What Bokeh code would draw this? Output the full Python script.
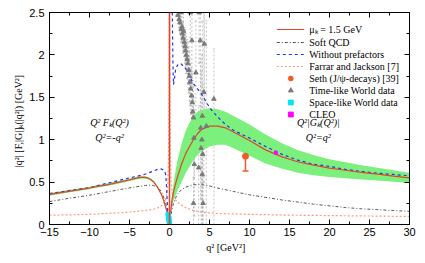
import numpy as np
from bokeh.plotting import figure
from bokeh.models import (FixedTicker, LinearAxis, Range1d, Legend, LegendItem,
                          Whisker, ColumnDataSource, Label, Span, TeeHead,
                          CustomJSTickFormatter)
from bokeh.embed import file_html
from bokeh.resources import INLINE

# ---------------- data ----------------
x_ticks = [-15, -10, -5, 0, 5, 10, 15, 20, 25, 30]
x_minor = [-12.5, -7.5, -2.5, 2.5, 7.5, 12.5, 17.5, 22.5, 27.5]
y_ticks = [0, 0.5, 1, 1.5, 2, 2.5]
y_tick_labels = ["0", "0.5", "1", "1.5", "2", "2.5"]
y_minor = [0.25, 0.75, 1.25, 1.75, 2.25]

# space-like branch (q^2 < 0)
q_s = [-15, -14, -13, -12, -11, -10, -9, -8, -7, -6, -5, -4, -3.5, -3, -2.5, -2,
       -1.5, -1, -0.75, -0.5, -0.3, -0.15, -0.05]
red_s = [0.355, 0.37, 0.385, 0.40, 0.415, 0.43, 0.45, 0.465, 0.485, 0.505, 0.527,
         0.55, 0.556, 0.555, 0.54, 0.505, 0.44, 0.35, 0.29, 0.21, 0.14, 0.08, 0.03]
band_s_lo = [0.34, 0.355, 0.37, 0.385, 0.40, 0.415, 0.435, 0.45, 0.47, 0.49, 0.512,
             0.535, 0.541, 0.54, 0.527, 0.493, 0.43, 0.343, 0.285, 0.206, 0.138, 0.079, 0.03]
band_s_hi = [0.37, 0.385, 0.40, 0.415, 0.43, 0.445, 0.465, 0.48, 0.50, 0.52, 0.542,
             0.565, 0.571, 0.57, 0.553, 0.517, 0.45, 0.357, 0.295, 0.214, 0.142, 0.081, 0.03]

# time-like branch (q^2 > 0)
q_t = [0.1, 0.3, 0.5, 0.75, 1.0, 1.5, 2.0, 2.5, 3.0, 3.5, 4.0, 5.0, 6.0, 7.0, 8.0,
       10.0, 12.0, 14.0, 16.0, 18.0, 20.0, 22.0, 24.0, 26.0, 28.0, 30.0]
red_t = [0.10, 0.28, 0.38, 0.48, 0.56, 0.71, 0.83, 0.92, 1.00, 1.07, 1.12, 1.16,
         1.16, 1.14, 1.09, 0.99, 0.88, 0.80, 0.74, 0.70, 0.665, 0.64, 0.615, 0.595,
         0.57, 0.55]
band_t_lo = [0.08, 0.22, 0.28, 0.34, 0.40, 0.50, 0.60, 0.68, 0.76, 0.82, 0.87, 0.92,
             0.94, 0.94, 0.90, 0.81, 0.72, 0.66, 0.61, 0.58, 0.56, 0.545, 0.53, 0.52,
             0.505, 0.49]
band_t_hi = [0.12, 0.34, 0.48, 0.63, 0.76, 0.95, 1.10, 1.20, 1.28, 1.33, 1.35, 1.37,
             1.36, 1.33, 1.28, 1.18, 1.06, 0.96, 0.88, 0.82, 0.77, 0.735, 0.70, 0.67,
             0.64, 0.61]

# Without prefactors
q_b_s = [-15, -10, -5, -4, -3, -2, -1.5, -1, -0.7, -0.5, -0.4, -0.3, -0.2, -0.1]
blue_s = [0.365, 0.435, 0.55, 0.57, 0.595, 0.63, 0.65, 0.655, 0.64, 0.60, 0.50,
          0.30, 0.12, 0.03]
q_b_t = [0.35, 0.4, 0.45, 0.5, 0.6, 0.75, 1.0, 1.4, 2.0, 3.0, 4.0, 5.0, 6.0, 7.0,
         8.0, 10.0, 12.0, 14.0, 16.0, 18.0, 20.0, 22.0, 24.0, 26.0, 28.0, 30.0]
blue_t = [2.5, 2.1, 1.8, 1.65, 1.7, 1.82, 1.88, 1.9, 1.84, 1.66, 1.54, 1.38, 1.27,
          1.18, 1.11, 1.02, 0.92, 0.83, 0.76, 0.71, 0.685, 0.65, 0.625, 0.605, 0.59,
          0.575]

# Soft QCD
q_g_s = [-15, -12.5, -10, -8, -6, -4.5, -3, -2.4, -2, -1.5, -1, -0.5, -0.25, -0.05]
gray_s = [0.27, 0.31, 0.345, 0.38, 0.415, 0.44, 0.46, 0.465, 0.46, 0.44, 0.39,
          0.26, 0.14, 0.03]
q_g_t = [0.05, 0.25, 0.5, 0.75, 1, 1.5, 2, 3, 4, 5, 6, 8, 10, 12, 14, 16, 18, 20,
         22, 24, 26, 28, 30]
gray_t = [0.03, 0.15, 0.25, 0.31, 0.36, 0.41, 0.44, 0.47, 0.47, 0.455, 0.43, 0.39,
          0.35, 0.32, 0.29, 0.265, 0.24, 0.22, 0.20, 0.185, 0.175, 0.165, 0.155]

# Farrar and Jackson
q_o_s = [-15, -12, -10, -8, -6, -4, -3, -2, -1.5, -1, -0.7, -0.5, -0.3, -0.2,
         -0.1, -0.05, -0.03]
orange_s = [0.11, 0.115, 0.12, 0.13, 0.14, 0.155, 0.165, 0.18, 0.195, 0.22, 0.25,
            0.29, 0.38, 0.5, 0.9, 1.6, 2.5]
q_o_t = [0.03, 0.05, 0.1, 0.2, 0.3, 0.5, 1, 2, 3, 4, 6, 10, 15, 20, 25, 30]
orange_t = [2.5, 1.6, 0.9, 0.5, 0.4, 0.32, 0.26, 0.2, 0.165, 0.145, 0.13, 0.12,
            0.11, 0.105, 0.10, 0.095]

# Time-like world data
tl_q = [1.05, 1.20, 1.30, 1.40, 1.45, 1.55, 1.60, 1.70, 1.75, 1.85, 1.95, 2.00,
        2.10, 2.20, 2.30, 2.40, 2.50, 2.55, 2.60, 2.65, 2.75, 2.80, 2.85, 2.90,
        3.00, 3.05, 3.10, 3.00, 3.30, 3.70, 3.65, 3.85, 3.90, 3.95, 4.10, 4.05,
        4.15, 4.10, 4.20, 4.35, 4.30, 4.60, 5.55]
tl_v = [2.47, 2.42, 2.38, 2.50, 2.30, 2.33, 2.25, 2.20, 2.28, 2.15, 2.10, 2.05,
        2.00, 1.95, 1.90, 1.82, 1.75, 1.68, 2.50, 1.60, 1.52, 2.17, 1.44, 1.33,
        1.26, 1.02, 0.71, 0.25, 1.79, 2.50, 0.67, 2.17, 1.14, 0.90, 1.28, 1.00,
        0.83, 0.59, 0.25, 2.13, 1.56, 1.16, 1.48]
tl_lo = [2.40, 2.32, 2.25, 2.40, 2.15, 2.15, 2.10, 2.02, 2.05, 1.98, 1.90, 1.85,
         1.78, 1.72, 1.65, 1.55, 1.45, 1.40, 2.20, 1.30, 1.20, 1.75, 1.10, 0.95,
         0.85, 0.55, 0.10, 0.00, 1.20, 1.90, 0.00, 1.10, 0.30, 0.00, 0.20, 0.00,
         0.00, 0.00, 0.00, 0.90, 0.50, 0.00, 0.00]
tl_hi = [2.55, 2.55, 2.52, 2.60, 2.45, 2.50, 2.40, 2.38, 2.50, 2.32, 2.30, 2.25,
         2.22, 2.18, 2.15, 2.10, 2.05, 1.96, 2.80, 1.90, 1.85, 2.60, 1.80, 1.70,
         1.65, 1.50, 1.35, 0.55, 2.40, 2.90, 1.40, 2.60, 1.95, 1.80, 2.40, 2.00,
         1.65, 1.20, 0.50, 2.60, 2.60, 2.40, 2.07]

# Space-like world data
sl_q = [-0.02, -0.04, -0.06, -0.08, -0.10, -0.12, -0.15, -0.18]
sl_v = [0.02, 0.04, 0.055, 0.07, 0.085, 0.095, 0.11, 0.12]
sl_lo = [0.01, 0.03, 0.04, 0.055, 0.07, 0.08, 0.09, 0.10]
sl_hi = [0.03, 0.05, 0.07, 0.085, 0.10, 0.11, 0.13, 0.14]

# Seth (J/psi decays) and CLEO
seth_q = [9.5]
seth_v = [0.805]
seth_lo = [0.63]
seth_hi = [0.98]
cleo_q = [13.3]
cleo_v = [0.845]
cleo_lo = [0.79]
cleo_hi = [0.90]

# ---------------- styles ----------------
C_RED = "#e2452a"
C_BLUE = "#2233ee"
C_GRAY = "#555555"
C_ORANGE = "#ff9a70"
C_GREEN = "#7cf07c"
C_SETH = "#f25c22"
C_TL = "#7a7a7a"
C_TL_ERR = "#b4b4b4"
C_SL = "#00e5f5"
C_CLEO = "#ff00ff"
SERIF = "Liberation Serif"
SANS = "Liberation Sans"

p = figure(width=425, height=263, output_backend="svg", toolbar_location=None,
           x_range=Range1d(-15, 30), y_range=Range1d(0, 2.5),
           min_border_left=49, min_border_right=16, min_border_top=12,
           min_border_bottom=39)
p.grid.visible = False
p.outline_line_color = "black"
p.outline_line_width = 1
p.background_fill_color = "white"
p.border_fill_color = "white"

for ax, ticks, minor in [(p.xaxis[0], x_ticks, x_minor), (p.yaxis[0], y_ticks, y_minor)]:
    ax.ticker = FixedTicker(ticks=ticks, minor_ticks=minor)
    ax.major_tick_in = 5
    ax.major_tick_out = 0
    ax.minor_tick_in = 3
    ax.minor_tick_out = 0
    ax.major_label_text_font = SANS
    ax.major_label_text_font_size = "11px"
    ax.major_label_text_color = "black"
    ax.axis_line_color = "black"
    ax.axis_label_text_font = SERIF
    ax.axis_label_text_font_style = "normal"
    ax.axis_label_text_font_size = "10px"
    ax.axis_label_text_color = "black"

p.yaxis[0].major_label_overrides = {t: l for t, l in zip(y_ticks, y_tick_labels)}
p.xaxis[0].major_label_standoff = 3
p.yaxis[0].major_label_standoff = 5
p.xaxis[0].axis_label = "q\u00b2    [GeV\u00b2]"
p.xaxis[0].axis_label_standoff = 3
p.yaxis[0].axis_label = "|q\u00b2| [F,|G|]\u2096(|q\u00b2|)   [GeV\u00b2]"
p.yaxis[0].axis_label_standoff = 2

# mirror axes (ticks only, no labels)
for loc, ticks, minor in [("above", x_ticks, x_minor), ("right", y_ticks, y_minor)]:
    ax = LinearAxis(ticker=FixedTicker(ticks=ticks, minor_ticks=minor),
                    formatter=CustomJSTickFormatter(code="return ''"),
                    major_tick_in=5, major_tick_out=0, minor_tick_in=3,
                    minor_tick_out=0, major_label_standoff=0,
                    axis_line_color="black")
    p.add_layout(ax, loc)

# band
p.varea(x=q_s, y1=band_s_lo, y2=band_s_hi, fill_color=C_GREEN)
p.varea(x=q_t, y1=band_t_lo, y2=band_t_hi, fill_color=C_GREEN)

# vertical line at q^2 = 0
p.add_layout(Span(location=0, dimension="height", line_color=C_RED, line_width=1.5))

# curves
r_gray = p.line(q_g_s, gray_s, line_color=C_GRAY, line_width=1, line_dash="3 2 1 2")
p.line(q_g_t, gray_t, line_color=C_GRAY, line_width=1, line_dash="3 2 1 2")
r_orange = p.line(q_o_s, orange_s, line_color=C_ORANGE, line_width=1.2, line_dash="2 2")
p.line(q_o_t, orange_t, line_color=C_ORANGE, line_width=1.2, line_dash="2 2")
r_blue = p.line(q_b_s, blue_s, line_color=C_BLUE, line_width=1.2, line_dash="3 3")
p.line(q_b_t, blue_t, line_color=C_BLUE, line_width=1.2, line_dash="3 3")
r_red = p.line(q_s, red_s, line_color=C_RED, line_width=1.2)
p.line(q_t, red_t, line_color=C_RED, line_width=1.2)

# time-like world data
tl_src = ColumnDataSource(dict(x=tl_q, y=tl_v, lo=tl_lo, hi=tl_hi))
p.add_layout(Whisker(base="x", lower="lo", upper="hi", source=tl_src,
                     line_color=C_TL_ERR, line_width=0.8, line_dash="2 2",
                     upper_head=TeeHead(size=2, line_color=C_TL_ERR, line_width=0.8),
                     lower_head=TeeHead(size=2, line_color=C_TL_ERR, line_width=0.8)))
r_tl = p.scatter("x", "y", source=tl_src, marker="triangle", size=4.5,
                 fill_color=C_TL, line_color=C_TL)
r_tl_leg = p.line([], [], line_color=C_TL_ERR, line_width=1, line_dash="2 2")

# space-like world data
sl_src = ColumnDataSource(dict(x=sl_q, y=sl_v, lo=sl_lo, hi=sl_hi))
p.add_layout(Whisker(base="x", lower="lo", upper="hi", source=sl_src,
                     line_color=C_SL, line_width=1,
                     upper_head=TeeHead(size=3, line_color=C_SL),
                     lower_head=TeeHead(size=3, line_color=C_SL)))
r_sl = p.scatter("x", "y", source=sl_src, marker="square", size=4,
                 fill_color=C_SL, line_color=C_SL)
r_sl_leg = p.line([], [], line_color=C_SL, line_width=1, line_dash="3 2 1 2")

# Seth
seth_src = ColumnDataSource(dict(x=seth_q, y=seth_v, lo=seth_lo, hi=seth_hi))
p.add_layout(Whisker(base="x", lower="lo", upper="hi", source=seth_src,
                     line_color=C_SETH, line_width=1.5,
                     upper_head=TeeHead(size=6, line_color=C_SETH, line_width=1.5),
                     lower_head=TeeHead(size=6, line_color=C_SETH, line_width=1.5)))
r_seth = p.scatter("x", "y", source=seth_src, marker="circle", size=6,
                   fill_color=C_SETH, line_color=C_SETH)
r_seth_leg = p.line([], [], line_color=C_SETH, line_width=1.5)

# CLEO
cleo_src = ColumnDataSource(dict(x=cleo_q, y=cleo_v, lo=cleo_lo, hi=cleo_hi))
p.add_layout(Whisker(base="x", lower="lo", upper="hi", source=cleo_src,
                     line_color=C_CLEO, line_width=1.5,
                     upper_head=TeeHead(size=6, line_color=C_CLEO, line_width=1.5),
                     lower_head=TeeHead(size=6, line_color=C_CLEO, line_width=1.5)))
r_cleo = p.scatter("x", "y", source=cleo_src, marker="square", size=3,
                   fill_color=C_CLEO, line_color=C_CLEO)
r_cleo_leg = p.line([], [], line_color=C_CLEO, line_width=1.5)

# region annotations
for x, y, t in [(-7.5, 1.2, "Q\u00b2 F\u2096(Q\u00b2)"), (-7.5, 1.03, "Q\u00b2=-q\u00b2"),
                (18.6, 1.2, "Q\u00b2|G\u2096(Q\u00b2)|"), (18.6, 1.03, "Q\u00b2=q\u00b2")]:
    p.add_layout(Label(x=x, y=y, text=t, text_align="center", text_baseline="middle",
                       text_font=SERIF, text_font_style="italic",
                       text_font_size="10px", text_color="black"))

legend = Legend(items=[
    LegendItem(label="\u03bc\u2096 = 1.5 GeV", renderers=[r_red]),
    LegendItem(label="Soft QCD", renderers=[r_gray]),
    LegendItem(label="Without prefactors", renderers=[r_blue]),
    LegendItem(label="Farrar and Jackson [7]", renderers=[r_orange]),
    LegendItem(label="Seth (J/\u03c8-decays) [39]", renderers=[r_seth_leg, r_seth]),
    LegendItem(label="Time-like World data", renderers=[r_tl_leg, r_tl]),
    LegendItem(label="Space-like World data", renderers=[r_sl_leg, r_sl]),
    LegendItem(label="CLEO", renderers=[r_cleo_leg, r_cleo]),
], location="top_right")
legend.label_text_font = SERIF
legend.label_text_font_size = "10px"
legend.label_text_color = "black"
legend.glyph_width = 28
legend.glyph_height = 12
legend.label_height = 12
legend.spacing = 0
legend.padding = 2
legend.margin = 8
legend.label_standoff = 5
legend.background_fill_alpha = 0
legend.border_line_alpha = 0
p.add_layout(legend, "center")

open("out.html", "w").write(file_html(p, INLINE))
